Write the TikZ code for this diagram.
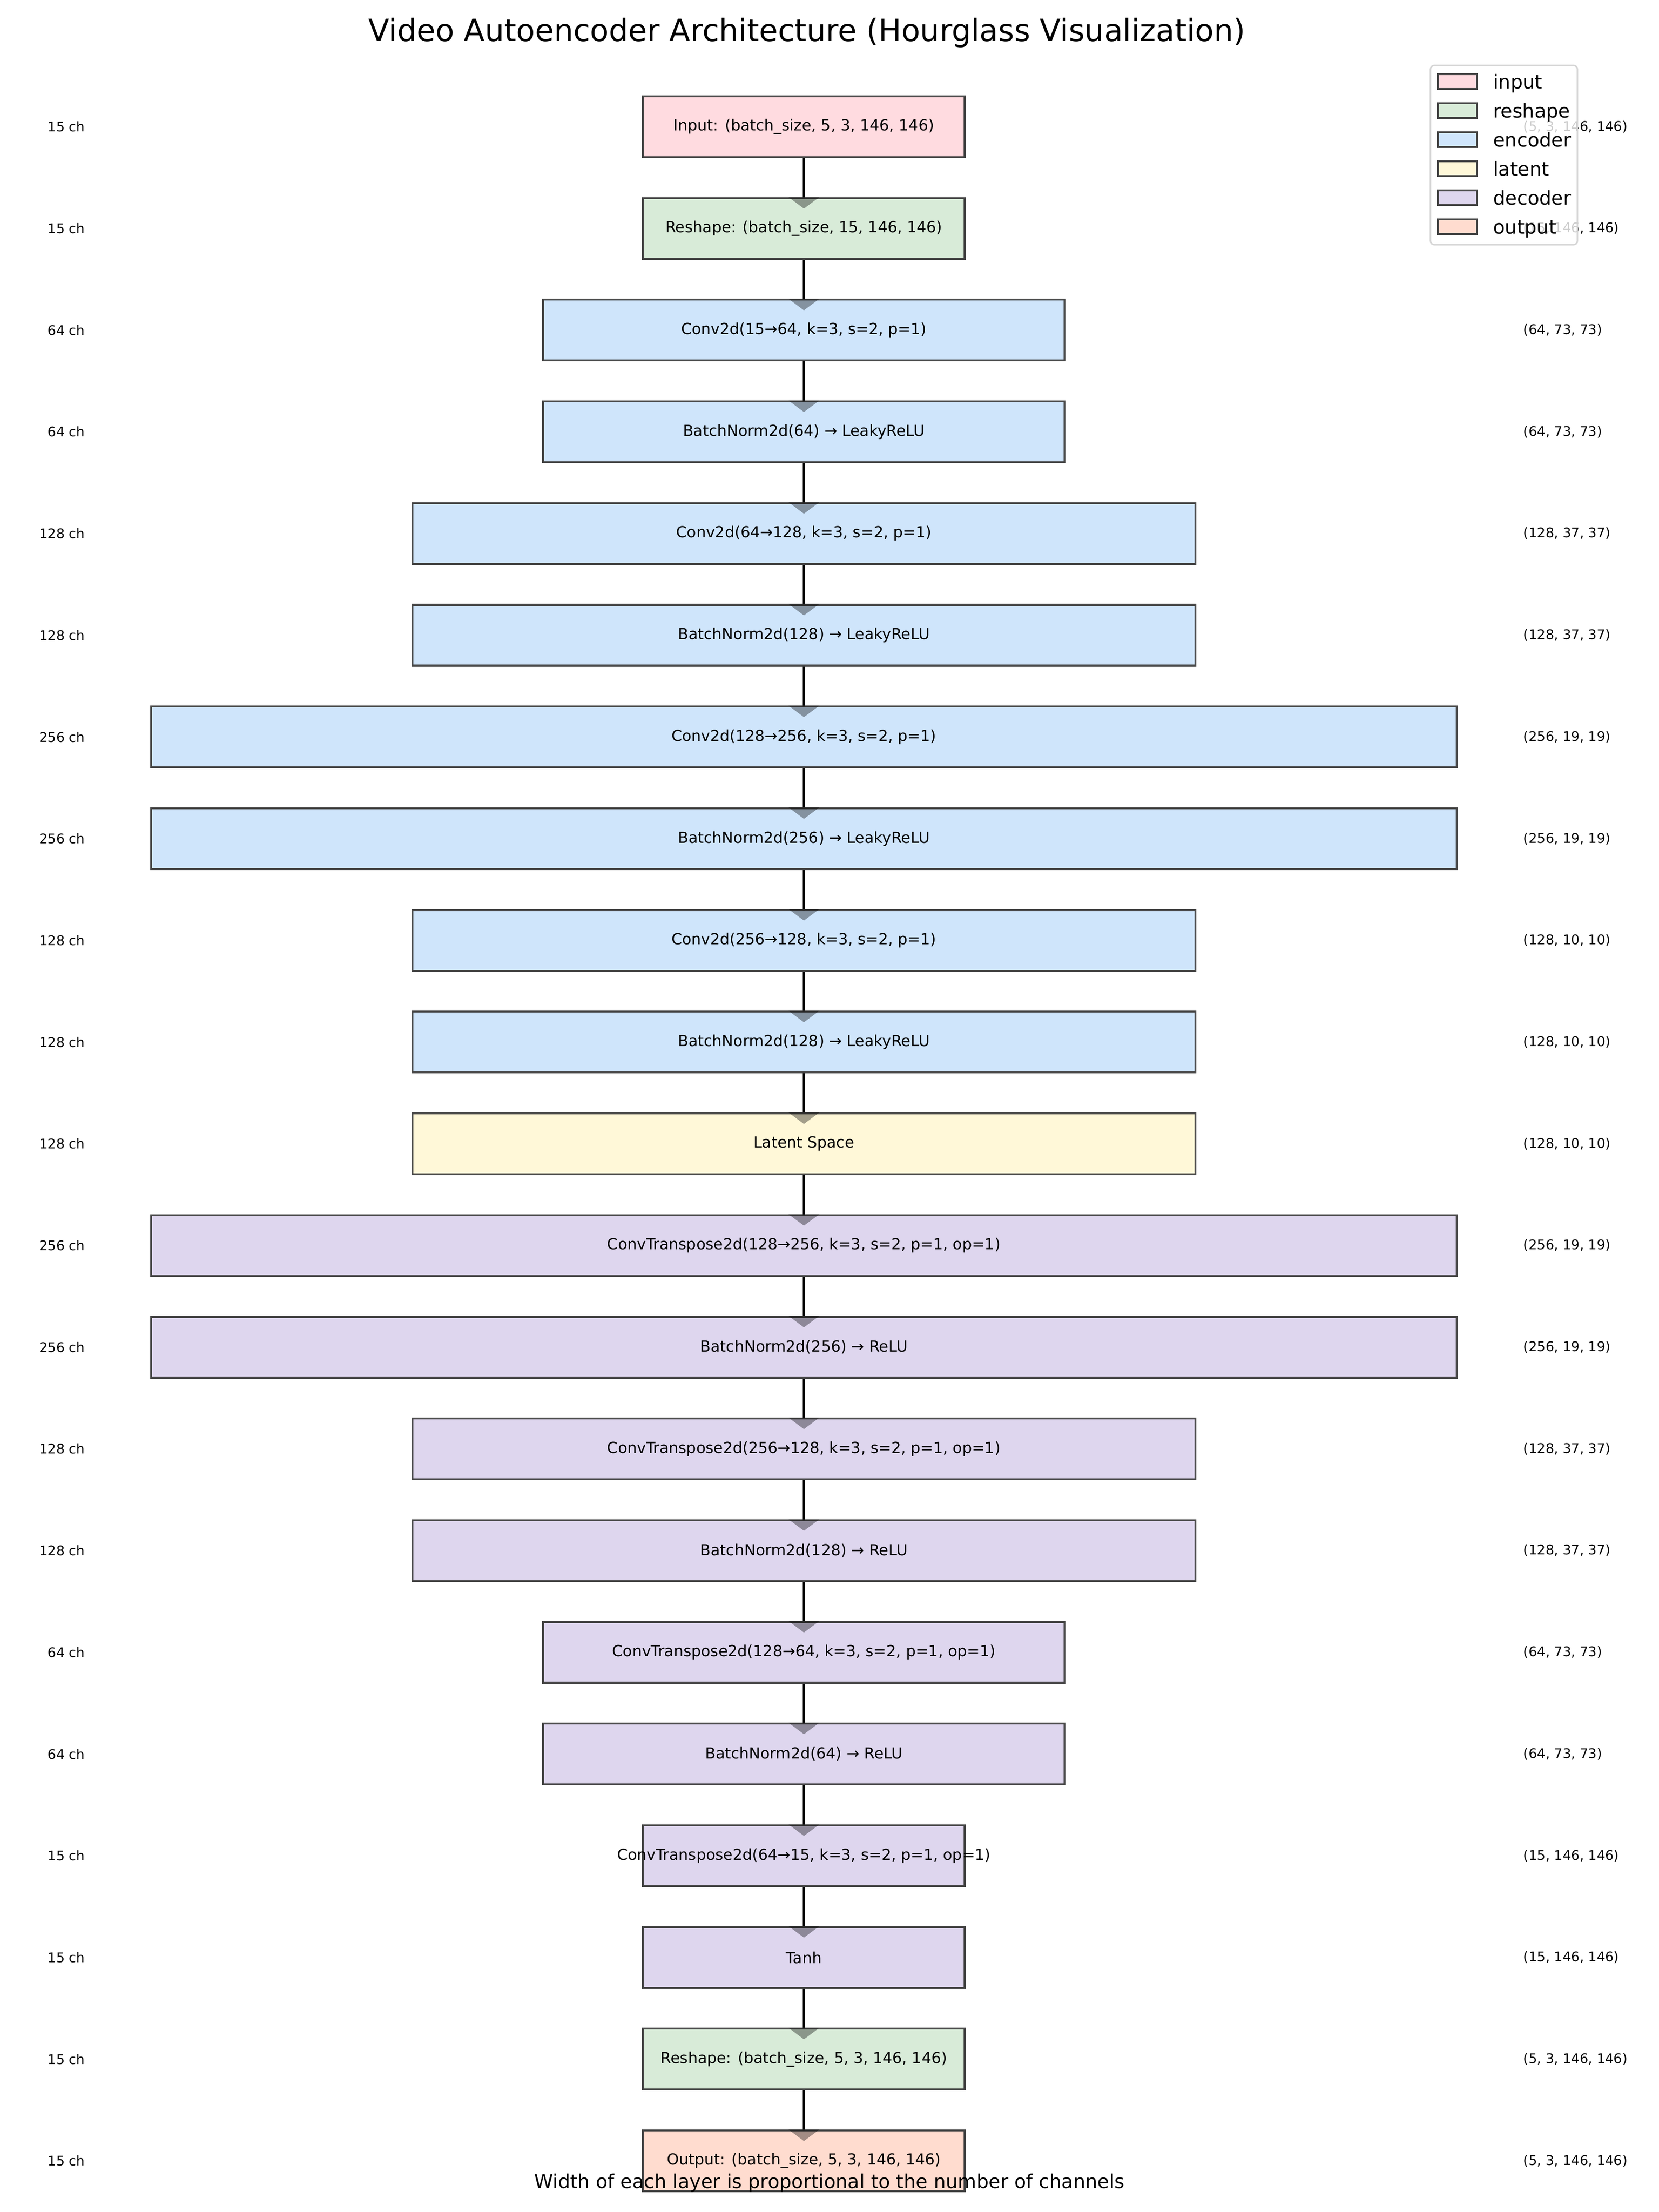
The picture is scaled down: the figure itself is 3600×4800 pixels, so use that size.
\documentclass[tikz,border=0pt]{standalone}
\usepackage{fontspec}
\setmainfont{DejaVu Sans}

\definecolor{inpfill}{HTML}{FFDBE0}
\definecolor{rshfill}{HTML}{D8EBD8}
\definecolor{encfill}{HTML}{CFE5FB}
\definecolor{latfill}{HTML}{FFF8D8}
\definecolor{decfill}{HTML}{DED6EE}
\definecolor{outfill}{HTML}{FFDCCF}
\definecolor{edgegray}{HTML}{454545}
\definecolor{leggray}{HTML}{D5D5D5}

\begin{document}
\begin{tikzpicture}[x=0.0846667mm, y=-0.0846667mm,
		lay/.style={draw=edgegray, line width=1pt, inner sep=0pt,
			minimum height=31.8pt, minimum width={(8.86*#1+565)*0.2409pt},
			font=\fontsize{8}{9.6}\selectfont},
		inpc/.style={fill=inpfill}, rshc/.style={fill=rshfill},
		encc/.style={fill=encfill}, latc/.style={fill=latfill},
		decc/.style={fill=decfill}, outc/.style={fill=outfill},
		flow/.style={line width=1.2pt, black},
		head/.style={black, fill opacity=0.36},
		sidelab/.style={font=\fontsize{7}{8.4}\selectfont, inner sep=0pt},
		swatch/.style={draw=edgegray, line width=1pt, minimum width=20.5pt, minimum height=7.7pt, inner sep=0pt}]
	% Define coordinates
	\def\cx{1744.5}
	\def\ry{220.7}
	\useasboundingbox (0,0) rectangle (3600,4800);
	
	% Title
	\node[font=\fontsize{16}{19}\selectfont] (title) at (1751,71) {Video Autoencoder Architecture (Hourglass Visualization)};
	
	% Layers (width grows with the channels)
	\node[lay=15, inpc] (L0) at (\cx, 275) {Input: (batch\_size, 5, 3, 146, 146)};
	\node[lay=15, rshc] (L1) at (\cx, 275+1*\ry) {Reshape: (batch\_size, 15, 146, 146)};
	\node[lay=64, encc] (L2) at (\cx, 275+2*\ry) {Conv2d(15→64, k=3, s=2, p=1)};
	\node[lay=64, encc] (L3) at (\cx, 275+3*\ry) {BatchNorm2d(64) → LeakyReLU};
	\node[lay=128, encc] (L4) at (\cx, 275+4*\ry) {Conv2d(64→128, k=3, s=2, p=1)};
	\node[lay=128, encc] (L5) at (\cx, 275+5*\ry) {BatchNorm2d(128) → LeakyReLU};
	\node[lay=256, encc] (L6) at (\cx, 275+6*\ry) {Conv2d(128→256, k=3, s=2, p=1)};
	\node[lay=256, encc] (L7) at (\cx, 275+7*\ry) {BatchNorm2d(256) → LeakyReLU};
	\node[lay=128, encc] (L8) at (\cx, 275+8*\ry) {Conv2d(256→128, k=3, s=2, p=1)};
	\node[lay=128, encc] (L9) at (\cx, 275+9*\ry) {BatchNorm2d(128) → LeakyReLU};
	\node[lay=128, latc] (L10) at (\cx, 275+10*\ry) {Latent Space};
	\node[lay=256, decc] (L11) at (\cx, 275+11*\ry) {ConvTranspose2d(128→256, k=3, s=2, p=1, op=1)};
	\node[lay=256, decc] (L12) at (\cx, 275+12*\ry) {BatchNorm2d(256) → ReLU};
	\node[lay=128, decc] (L13) at (\cx, 275+13*\ry) {ConvTranspose2d(256→128, k=3, s=2, p=1, op=1)};
	\node[lay=128, decc] (L14) at (\cx, 275+14*\ry) {BatchNorm2d(128) → ReLU};
	\node[lay=64, decc] (L15) at (\cx, 275+15*\ry) {ConvTranspose2d(128→64, k=3, s=2, p=1, op=1)};
	\node[lay=64, decc] (L16) at (\cx, 275+16*\ry) {BatchNorm2d(64) → ReLU};
	% text runs past the box here
	\node[lay=15, decc] (L17) at (\cx, 275+17*\ry) {\makebox[0pt]{ConvTranspose2d(64→15, k=3, s=2, p=1, op=1)}};
	\node[lay=15, decc] (L18) at (\cx, 275+18*\ry) {Tanh};
	\node[lay=15, rshc] (L19) at (\cx, 275+19*\ry) {Reshape: (batch\_size, 5, 3, 146, 146)};
	\node[lay=15, outc] (L20) at (\cx, 275+20*\ry) {Output: (batch\_size, 5, 3, 146, 146)};
	
	% Connectors with a shaded head inside the next box
	\foreach \i [evaluate=\i as \j using int(\i+1)] in {0,...,19} {
		\draw[flow] (L\i.south) -- (L\j.north);
		\fill[head] (L\j.north) +(-33.5,0) -- +(33.5,0) -- +(0,25) -- cycle;
	}
	
	% Channel counts (left) and output shapes (right)
	\foreach \i/\ch/\shp in {0/15/{(5, 3, 146, 146)}, 1/15/{(15, 146, 146)},
		2/64/{(64, 73, 73)}, 3/64/{(64, 73, 73)}, 4/128/{(128, 37, 37)}, 5/128/{(128, 37, 37)},
		6/256/{(256, 19, 19)}, 7/256/{(256, 19, 19)}, 8/128/{(128, 10, 10)}, 9/128/{(128, 10, 10)},
		10/128/{(128, 10, 10)}, 11/256/{(256, 19, 19)}, 12/256/{(256, 19, 19)},
		13/128/{(128, 37, 37)}, 14/128/{(128, 37, 37)}, 15/64/{(64, 73, 73)}, 16/64/{(64, 73, 73)},
		17/15/{(15, 146, 146)}, 18/15/{(15, 146, 146)}, 19/15/{(5, 3, 146, 146)}, 20/15/{(5, 3, 146, 146)}} {
		\node[sidelab, anchor=east] (ch\i) at (185, 275+\i*\ry) {\ch{} ch};
		\node[sidelab, anchor=west] (sh\i) at (3305, 275+\i*\ry) {\shp};
	}
	
	% Legend (drawn over the first shape labels)
	\draw[draw=leggray, line width=0.8pt, fill=white, fill opacity=0.8, rounded corners=2pt] (3104,142) rectangle (3423,531);
	\foreach \k/\col/\name in {0/inpfill/input, 1/rshfill/reshape, 2/encfill/encoder,
		3/latfill/latent, 4/decfill/decoder, 5/outfill/output} {
		\node[swatch, fill=\col] (sw\k) at (3162.5, 177+63*\k) {};
		\node[font=\fontsize{10}{12}\selectfont, anchor=base west, inner sep=0pt] (lg\k) at (3239.5, 192+63*\k) {\name};
	}
	
	% Footer note
	\node[font=\fontsize{10}{12}\selectfont] (note) at (1800,4737) {Width of each layer is proportional to the number of channels};
\end{tikzpicture}
\end{document}
